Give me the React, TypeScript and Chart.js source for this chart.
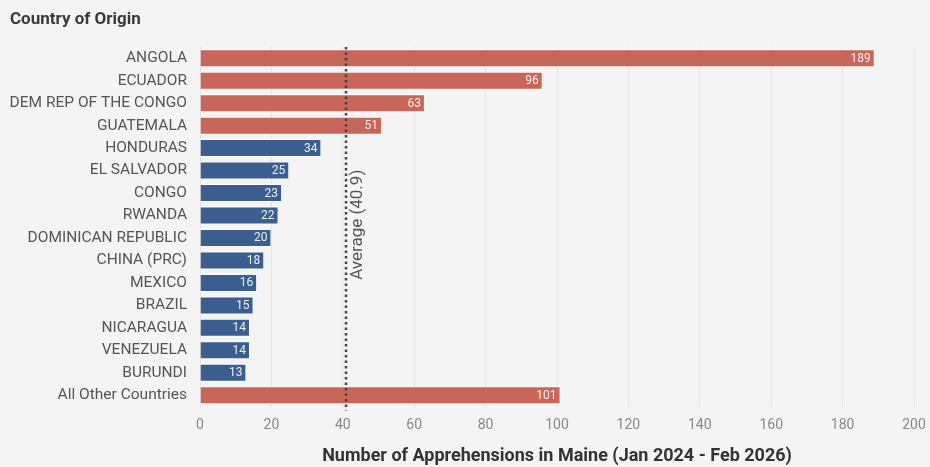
import React, { useEffect, useRef } from "react";
import { Chart, registerables } from "chart.js";

Chart.register(...registerables);

const countries = [
  "ANGOLA",
  "ECUADOR",
  "DEM REP OF THE CONGO",
  "GUATEMALA",
  "HONDURAS",
  "EL SALVADOR",
  "CONGO",
  "RWANDA",
  "DOMINICAN REPUBLIC",
  "CHINA (PRC)",
  "MEXICO",
  "BRAZIL",
  "NICARAGUA",
  "VENEZUELA",
  "BURUNDI",
  "All Other Countries",
];
const apprehensions = [189, 96, 63, 51, 34, 25, 23, 22, 20, 18, 16, 15, 14, 14, 13, 101];
const aboveAverage = [true, true, true, true, false, false, false, false, false, false, false, false, false, false, false, true];
const averageValue = 40.9;
const xTicks = [0, 20, 40, 60, 80, 100, 120, 140, 160, 180, 200];

const RED = "#c8665a";
const BLUE = "#3b5e8e";
const FONT = "Roboto, 'Noto Sans', sans-serif";

export default function App() {
  const ref = useRef<HTMLCanvasElement | null>(null);

  useEffect(() => {
    document.body.style.margin = "0";
    const canvas = ref.current!;
    const overlay = {
      id: "overlay",
      beforeDraw(chart: any) {
        const ctx = chart.ctx;
        ctx.save();
        ctx.fillStyle = "#f4f4f4";
        ctx.fillRect(0, 0, chart.width, chart.height);
        ctx.fillStyle = "#3a3a3a";
        ctx.font = `bold 17px ${FONT}`;
        ctx.textBaseline = "middle";
        ctx.textAlign = "left";
        ctx.fillText("Country of Origin", 10, 20);
        ctx.restore();
      },
      afterDatasetsDraw(chart: any) {
        const ctx = chart.ctx;
        const meta = chart.getDatasetMeta(0);
        ctx.save();
        ctx.font = `12px ${FONT}`;
        ctx.fillStyle = "rgba(255,255,255,0.9)";
        ctx.textAlign = "right";
        ctx.textBaseline = "middle";
        meta.data.forEach((bar: any, i: number) => {
          ctx.fillText(String(apprehensions[i]), bar.x - 4, bar.y + 0.5);
        });
        const xs = chart.scales.x;
        const area = chart.chartArea;
        const ax = xs.getPixelForValue(averageValue);
        ctx.strokeStyle = "#444";
        ctx.lineWidth = 2.5;
        ctx.setLineDash([2.5, 3]);
        ctx.beginPath();
        ctx.moveTo(ax, area.top);
        ctx.lineTo(ax, area.bottom + 4);
        ctx.stroke();
        ctx.setLineDash([]);
        ctx.translate(ax + 12, (area.top + area.bottom) / 2 - 2);
        ctx.rotate(-Math.PI / 2);
        ctx.font = `17px ${FONT}`;
        ctx.fillStyle = "#555";
        ctx.textAlign = "center";
        ctx.fillText(`Average (${averageValue})`, 0, 0);
        ctx.restore();
      },
    };

    const chart = new Chart(canvas, {
      type: "bar",
      data: {
        labels: countries,
        datasets: [
          {
            data: apprehensions,
            backgroundColor: aboveAverage.map((a) => (a ? RED : BLUE)),
            borderColor: "rgba(255,255,255,0.85)",
            borderWidth: 1,
            barPercentage: 0.8,
            categoryPercentage: 1,
          },
        ],
      },
      options: {
        indexAxis: "y",
        animation: false,
        responsive: false,
        maintainAspectRatio: false,
        layout: { padding: { top: 47, right: 16, bottom: 0, left: 0 } },
        plugins: {
          legend: { display: false },
          tooltip: { enabled: false },
          title: { display: false },
        },
        scales: {
          x: {
            min: 0,
            max: 200,
            afterBuildTicks(scale: any) {
              scale.ticks = xTicks.map((v) => ({ value: v }));
            },
            afterFit(scale: any) {
              scale.height = 60.5;
              scale.paddingRight = 0;
              scale.paddingLeft = 0;
            },
            grid: { color: "#e4e4e4", drawTicks: false, lineWidth: 1 },
            border: { display: false },
            ticks: {
              color: "#888",
              font: { family: FONT, size: 14 },
              padding: 11,
              maxRotation: 0,
            },
            title: {
              display: true,
              text: "Number of Apprehensions in Maine (Jan 2024 - Feb 2026)",
              color: "#333",
              font: { family: FONT, size: 18, weight: "bold" },
              padding: { top: 0, bottom: 0 },
            },
          },
          y: {
            afterFit(scale: any) {
              scale.width = 200;
            },
            grid: { display: false, drawTicks: false },
            border: { display: false },
            ticks: {
              color: "#555",
              font: { family: FONT, size: 15.5 },
              padding: 13,
              autoSkip: false,
            },
          },
        },
      },
      plugins: [overlay],
    } as any);
    return () => chart.destroy();
  }, []);

  return (
    <div style={{ position: "fixed", left: 0, top: 0, width: 930, height: 467 }}>
      <canvas ref={ref} width={930} height={467} style={{ width: 930, height: 467 }} />
    </div>
  );
}
